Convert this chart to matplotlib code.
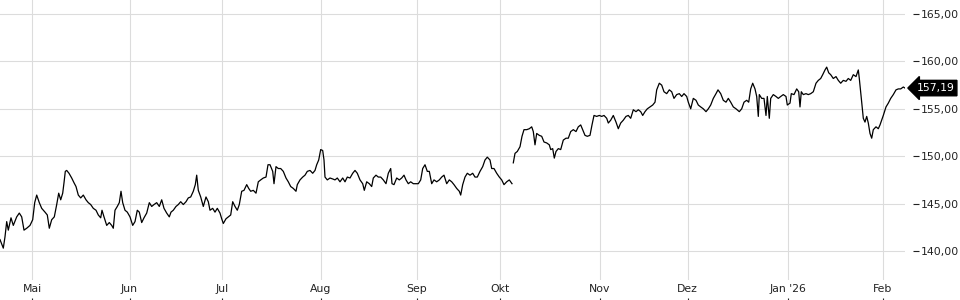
import numpy as np
import matplotlib
matplotlib.use("Agg")
import matplotlib.pyplot as plt
from matplotlib.transforms import blended_transform_factory

pos = [0, 3.3, 5, 6.7, 8.3, 11, 13.3, 16.7, 19.3, 21.7, 24, 26.7, 30, 32.7, 34.7, 36.7, 39.3, 41.7, 45, 47.3,
       49.3, 51.7, 54.3, 56.7, 58.7, 60.7, 62.7, 64, 65.3, 66.7, 69, 71.7, 74, 76, 78.3, 80.7, 83.3, 86, 88.3, 90.7,
       93.3, 96, 98.3, 100.7, 102, 104, 106.7, 109.3, 111.7, 113.3, 115, 117.3, 119.3, 121, 122.7, 125, 127.3, 130,
       132.7, 135, 137.3, 139.3, 141.7, 144, 146.7, 149.3, 151.7, 154, 156.7, 159.3, 161.7, 164, 166.7, 169.3,
       171, 173.3, 176, 178.3, 180.7, 183.3, 186, 188.3, 190.7, 193.3, 195.3, 196.7, 198.3, 200.7, 203.3, 206,
       208.3, 210, 212.7, 215, 217.3, 220, 221.7, 223.3, 226, 228.3, 230.7, 232.7, 235, 237.3, 239.3, 241.7, 244,
       246.7, 248.7, 250.7, 253.3, 256, 258.3, 260.7, 263.3, 266, 268, 270, 272.7, 274, 276, 278.3, 280.7, 283.3,
       286, 288.3, 290.7, 293.3, 296, 297.3, 300, 302.7, 305, 307.3, 310, 312.7, 315, 316.7, 318.7, 320.7, 322.7,
       324, 325, 327.3, 330,
       332.7, 335, 337.3, 340, 342.7, 345, 347.3, 350, 352.7, 355, 357.3, 360, 362.7, 364.3, 366.7, 369.3, 371.7,
       373.3, 376, 378.3, 380.7, 383.3, 386, 388.3, 390.7, 392, 394, 396.7, 399.3, 401.7, 404, 406, 408.3, 410.7,
       413.3, 416, 418.3, 420.7, 422.7, 425, 427.3, 429.3, 431.7, 434, 436.7, 439.3, 441.7, 444, 446.7, 449.3,
       451.7, 454, 456.7, 459.3, 460.7, 462.7, 465, 467.3, 470, 472.7, 475, 477.3, 480, 482.7, 485, 487.3, 490,
       491.7, 494, 496.7, 499.3, 501.7, 504, 506.7, 509.3, 512,
       512.6,
       513.3, 515, 517.3, 520, 522, 524, 526.7, 529.3, 531.7, 533.3, 535, 536.7, 539.3, 541.7, 544, 546.7, 549.3,
       550.7, 552.7, 554.3, 556, 558.3, 560.7, 563.3, 566, 568.3, 570.7, 573.3, 576, 578.3, 580.7, 582.7, 585,
       587.3, 590, 592, 594, 596.7, 599.3, 601.7, 604, 606.7, 608.3, 610.7, 613.3, 616, 618.3, 620.7, 623.3, 626,
       628.3, 630.7, 633.3, 636, 638.3, 640.7, 642.7, 645, 647.3, 650, 652.7, 655, 656.7, 659.3, 661.7, 664,
       666.7, 669.3, 671.7, 674, 676.7, 679.3, 681.7, 684, 686.7, 688.3, 690.7,
       693.3, 696, 698.3, 700.7, 703.3, 706, 708.3, 710.7, 713.3, 716, 718, 720.7, 723.3, 726, 728.3, 730.7,
       733.3, 736, 739.3, 741.7, 744, 746.7, 748.7, 750.7, 752.7, 755, 756.7, 758.3, 759.3, 761.7, 764, 766,
       767.3, 769.3, 770.7, 773.3, 776, 778.3, 780.7, 783.3, 786, 787.3, 790, 791.3, 794, 796.7, 798.7, 800,
       801.3, 803.3, 806, 808.3, 810.7, 813.3, 816, 818.3, 820.7, 822.7, 825, 826.7, 828.7, 830.7, 833.3, 836,
       838.3, 840.7, 843.3, 846, 848.3, 850.7, 853.3, 856, 858.3, 859.3, 860.7, 861.7, 863.3, 865, 866.7, 868.3,
       870, 871.7, 873.3, 876, 878.3, 880, 881.7, 883.3, 886, 888.3, 890.7, 893.3, 896, 898.3, 900.7, 903.3, 905]

kurs = [141.2, 140.3, 141.5, 143.1, 142.2, 143.5, 142.7, 143.6, 144.0, 143.6, 142.2, 142.4, 142.7, 143.3, 145.1,
        145.9, 145.1, 144.5, 144.1, 143.8, 142.4, 143.3, 143.6, 144.9, 146.1, 145.4, 146.1, 147.2, 148.4, 148.5,
        148.2, 147.7, 147.2, 146.8, 145.9, 145.6, 145.9, 145.4, 145.1, 144.9, 144.5, 144.3, 143.8, 143.5, 144.3,
        143.6, 142.7, 143.0, 142.7, 142.4, 144.3, 144.7, 145.1, 146.3, 145.1, 144.3, 144.1, 143.6, 142.7, 143.1,
        144.3, 144.1, 143.0, 143.5, 144.0, 145.1, 144.7, 144.9, 145.1, 144.7, 145.4, 144.5, 144.0, 143.6,
        144.1, 144.3, 144.7, 144.9, 145.2, 144.9, 145.2, 145.6, 145.7, 146.3, 147.0, 148.0, 146.4, 145.7, 144.7,
        145.7, 145.2, 144.3, 144.5, 144.1, 144.5, 144.0, 143.4, 142.9, 143.4, 143.6, 143.8, 145.2, 144.7, 144.3,
        144.9, 146.3, 146.4, 147.0, 146.6, 146.3, 146.4, 146.1, 147.3, 147.5, 147.7, 147.8, 149.1, 149.1, 148.4,
        147.1, 148.9, 148.7, 148.7, 148.4, 147.7, 147.3, 146.8, 146.6, 146.3, 147.0, 147.5, 147.8, 148.0, 148.4,
        148.5, 148.2, 148.5, 149.1, 149.6, 150.7, 150.6, 149.6, 147.8, 147.5, 147.7,
        147.6, 147.5, 147.7, 147.3, 147.7, 147.3, 147.8, 147.7, 148.2, 148.5, 148.2, 147.5, 147.1, 146.4, 147.3,
        147.1, 146.8, 147.7, 148.0, 147.8, 147.8, 147.5, 147.1, 148.2, 148.7, 147.1, 147.0, 147.7, 147.5, 147.7,
        148.0, 147.5, 147.1, 147.3, 147.1, 147.1, 147.1, 147.5, 148.7, 149.1, 148.4, 148.4, 147.1, 147.5, 147.3,
        147.5, 147.8, 148.0, 147.1, 147.5, 147.3, 147.0, 146.6, 146.3, 145.9, 147.0, 147.8, 148.2, 148.0, 148.2,
        147.8, 147.8, 148.4, 148.9, 149.6, 149.9, 149.6, 148.7, 148.7, 148.2, 147.8, 147.5, 147.0, 147.3, 147.5,
        147.1,
        np.nan,
        149.3, 150.3, 150.5, 151.0, 152.1, 152.8, 152.8, 152.9, 153.1, 152.6, 151.2, 152.4, 152.2, 152.1, 151.5,
        151.4, 151.2, 150.7, 150.8, 149.8, 150.5, 150.8, 150.7, 151.7, 151.9, 151.9, 152.6, 152.8, 152.6, 153.1,
        153.3, 152.8, 152.2, 152.1, 152.2, 153.3, 154.3, 154.2, 154.3, 154.2, 154.3, 154.0, 153.5, 153.8, 154.3,
        153.6, 152.9, 153.5, 153.8, 154.2, 154.3, 154.0, 154.9, 154.7, 154.9, 154.7, 154.3, 154.7, 155.0, 155.2,
        155.4, 155.7, 157.0, 157.7, 157.5, 156.8, 156.6, 157.0, 156.8, 156.1, 156.5, 156.6, 156.3, 156.6, 156.3,
        155.7, 155.0,
        156.1, 155.9, 155.4, 155.2, 155.0, 154.7, 155.0, 155.4, 156.1, 156.6, 157.0, 156.6, 155.9, 155.7, 156.1,
        155.7, 155.2, 155.0, 154.7, 155.0, 155.7, 155.9, 155.7, 157.1, 157.7, 157.1, 156.3, 154.2, 156.5, 156.1,
        156.1, 154.3, 156.3, 154.0, 156.1, 156.5, 156.3, 156.1, 156.3, 156.5, 156.3, 155.4, 155.6, 156.6, 156.5,
        157.1, 156.8, 155.2, 156.8, 156.5, 156.6, 156.5, 156.6, 156.8, 157.7, 158.0, 158.2, 158.6, 159.1, 159.4,
        158.8, 158.6, 158.2, 158.4, 158.0, 157.7, 158.0, 157.9, 158.2, 158.0, 158.6, 158.4, 159.1, 158.2, 156.8,
        155.7, 154.0, 153.6, 154.2, 153.5, 152.4, 151.9, 152.8, 153.1, 152.9, 153.3, 153.8, 154.3, 155.2, 155.6,
        156.1, 156.5, 157.0, 157.1, 157.1, 157.3, 157.19]

letzter_kurs = "157,19"

monate = ["Mai", "Jun", "Jul", "Aug", "Sep", "Okt", "Nov", "Dez", "Jan '26", "Feb"]
monat_pos = [32, 129.5, 222, 320.5, 416.5, 500, 600, 687.5, 788, 883]

y_ticks = [140, 145, 150, 155, 160, 165]


def de_format(v, _=None):
    return f"{v:.2f}".replace(".", ",")


fig = plt.figure(figsize=(9.6, 3.0), dpi=100)
ax = fig.add_axes([0.0, 20 / 300, 905 / 960, 280 / 300])

ax.plot(pos, kurs, color="black", linewidth=0.9)

ax.set_xlim(0, 905)
ax.set_ylim(136.94, 166.48)

ax.set_yticks(y_ticks)
ax.yaxis.set_major_formatter(plt.FuncFormatter(de_format))
ax.yaxis.tick_right()
ax.set_xticks(monat_pos)
ax.set_xticklabels(monate)

ax.grid(True, color="#dcdcdc", linewidth=0.8)
ax.set_axisbelow(True)

for s in ["left", "top", "bottom", "right"]:
    ax.spines[s].set_visible(False)
ax.spines["right"].set_position(("outward", 6))
ax.spines["bottom"].set_position(("outward", 17))

ax.tick_params(axis="y", direction="out", length=4, width=0.8, pad=1.5,
               labelsize=7.8, colors="#222222")
ax.tick_params(axis="x", direction="in", length=4, width=0.8, pad=-14,
               labelsize=7.8, colors="#222222")

# Markierung des letzten Kurses
trans = blended_transform_factory(ax.transAxes, ax.transData)
ax.text(1.0125, kurs[-1], letzter_kurs, transform=trans, color="white",
        fontsize=7.8, va="center", ha="left", clip_on=False,
        bbox=dict(boxstyle="larrow,pad=0.25", fc="black", ec="black"))

fig.savefig("out.png", dpi=100)
